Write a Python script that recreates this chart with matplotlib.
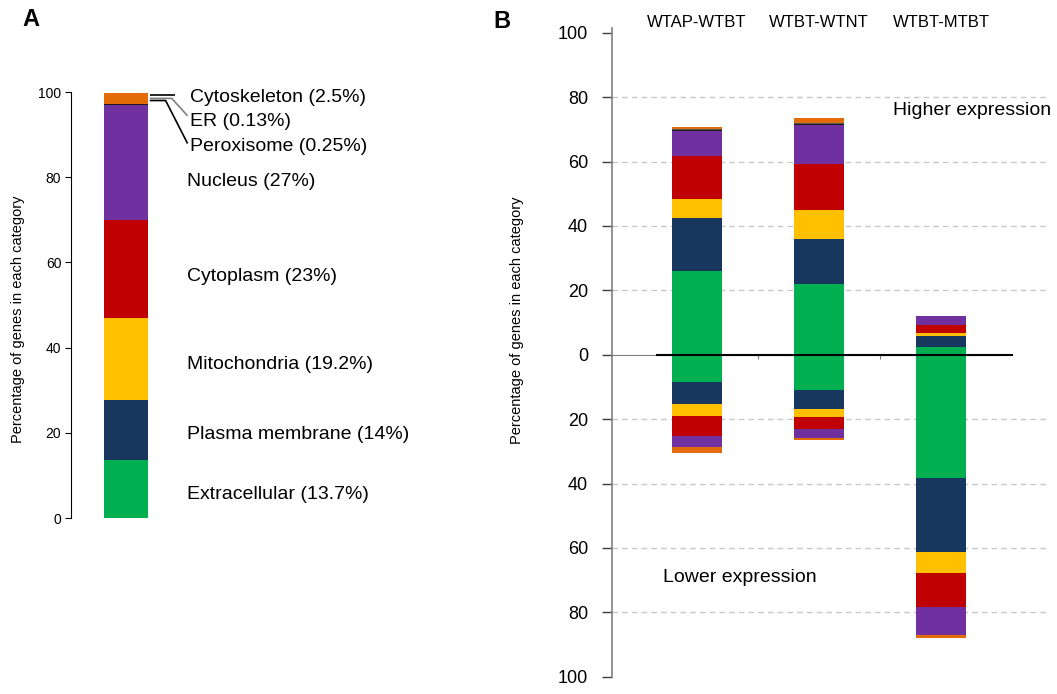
import numpy as np
import matplotlib.pyplot as plt
from matplotlib.ticker import FuncFormatter

plt.rcParams['font.family'] = ['Liberation Sans', 'DejaVu Sans']

# subcellular locations, bottom to top of each stack
locations = ["Extracellular", "Plasma membrane", "Mitochondria", "Cytoplasm",
             "Nucleus", "Peroxisome", "ER", "Cytoskeleton"]
loc_colors = ["#00B050", "#17375E", "#FFC000", "#C00000",
              "#7030A0", "#1A1A1A", "#595959", "#E36C09"]

# panel A: share of all genes (%)
overall = [13.7, 14.0, 19.2, 23.0, 27.0, 0.25, 0.13, 2.5]
overall_labels = ["Extracellular (13.7%)", "Plasma membrane (14%)", "Mitochondria (19.2%)",
                  "Cytoplasm (23%)", "Nucleus (27%)", "Peroxisome (0.25%)",
                  "ER (0.13%)", "Cytoskeleton (2.5%)"]

# panel B: comparisons, rows follow `locations`
comparisons = ["WTAP-WTBT", "WTBT-WTNT", "WTBT-MTBT"]
higher = np.array([
    [26.0, 22.0, 2.3],
    [16.6, 13.9, 3.4],
    [5.9, 9.0, 1.0],
    [13.1, 14.3, 2.6],
    [8.0, 12.2, 2.6],
    [0.2, 0.2, 0.0],
    [0.2, 0.3, 0.0],
    [0.8, 1.6, 0.0],
])
lower = np.array([
    [8.6, 11.1, 38.4],
    [6.6, 5.7, 22.9],
    [3.8, 2.4, 6.5],
    [6.1, 4.0, 10.6],
    [3.4, 2.7, 8.8],
    [0.0, 0.0, 0.0],
    [0.0, 0.0, 0.0],
    [1.9, 0.6, 0.8],
])

W, H = 1057, 694
fig = plt.figure(figsize=(W / 100, H / 100), dpi=100)

# ---------------- panel A ----------------
axA = fig.add_axes([71 / W, (H - 518) / H, 110 / W, 426 / H])
bottom = 0.0
for val, col in zip(overall, loc_colors):
    axA.bar(0, val, 0.5, bottom=bottom, color=col, linewidth=0)
    bottom += val
axA.set_xlim(-0.625, 0.625)
axA.set_ylim(0, 100)
axA.set_yticks(np.arange(0, 101, 20))
axA.set_xticks([])
for s in ["top", "right", "bottom"]:
    axA.spines[s].set_visible(False)
axA.spines["left"].set_linewidth(0.8)
axA.tick_params(axis="y", length=4, width=0.8, pad=3, labelsize=10)

# label positions (x, y in panel A data units)
label_pos = {
    "Extracellular": (0.69, 5.6),
    "Plasma membrane": (0.69, 19.5),
    "Mitochondria": (0.69, 36.0),
    "Cytoplasm": (0.69, 56.8),
    "Nucleus": (0.69, 79.1),
    "Peroxisome": (0.73, 87.1),
    "ER": (0.73, 93.0),
    "Cytoskeleton": (0.73, 98.8),
}
for name, lab in zip(locations, overall_labels):
    lx, ly = label_pos[name]
    axA.text(lx, ly, lab, fontsize=14, va="center", ha="left", clip_on=False)

# leader lines for the thin top segments
leaders = [
    ([0.27, 0.56], [99.3, 99.3], "black"),
    ([0.27, 0.52, 0.70], [98.5, 98.5, 94.4], "#808080"),
    ([0.27, 0.45, 0.70], [98.0, 98.0, 87.9], "black"),
]
for xs, ys, c in leaders:
    axA.plot(xs, ys, color=c, lw=1.2, clip_on=False, solid_capstyle="butt")

fig.text(18 / W, 1 - 319 / H, "Percentage of genes in each category", rotation=90,
         fontsize=10.5, ha="center", va="center")

# ---------------- panel B ----------------
axB = fig.add_axes([611.7 / W, (H - 676.7) / H, (1050 - 611.7) / W, 648.7 / H])
x = np.arange(len(comparisons))
width = 0.41
up = np.zeros(len(comparisons))
dn = np.zeros(len(comparisons))
for i, col in enumerate(loc_colors):
    axB.bar(x, higher[i], width, bottom=up, color=col, linewidth=0, zorder=2)
    up += higher[i]
    axB.bar(x, -lower[i], width, bottom=-dn, color=col, linewidth=0, zorder=2)
    dn += lower[i]

axB.set_xlim(-0.70, 2.89)
axB.set_ylim(-100, 101.5)
axB.set_yticks(np.arange(-100, 101, 20))
axB.yaxis.set_major_formatter(FuncFormatter(lambda v, p: f"{abs(int(round(v)))}"))
axB.tick_params(axis="y", length=7, width=1, color="#404040", pad=10, labelsize=13)

for v in [-80, -60, -40, -20, 20, 40, 60, 80]:
    axB.axhline(v, color="#C8C8C8", ls=(0, (4, 3)), lw=1, zorder=0)

axB.spines["top"].set_visible(False)
axB.spines["right"].set_visible(False)
axB.spines["left"].set_color("#7F7F7F")
axB.spines["left"].set_linewidth(1.2)
axB.spines["bottom"].set_position(("data", 0))
axB.spines["bottom"].set_color("#7F7F7F")
axB.spines["bottom"].set_bounds(-0.70, 2.5)
axB.set_xticks([0.5, 1.5])
axB.set_xticklabels([])
axB.tick_params(axis="x", length=3, color="#7F7F7F", direction="out")
axB.hlines(0, -0.336, 2.588, color="black", lw=1.5, zorder=3)

for xi, name in zip(x, comparisons):
    axB.text(xi, 103.3, name, fontsize=12, ha="center", va="center", clip_on=False)

axB.text(1.607, 76.0, "Higher expression", fontsize=14, ha="left", va="center")
axB.text(-0.279, -69.3, "Lower expression", fontsize=14, ha="left", va="center")

fig.text(517 / W, 1 - 320 / H, "Percentage of genes in each category", rotation=90,
         fontsize=10.5, ha="center", va="center")

fig.text(31 / W, 1 - 20 / H, "A", fontsize=17, fontweight="bold", ha="center", va="center")
fig.text(502 / W, 1 - 22 / H, "B", fontsize=17, fontweight="bold", ha="center", va="center")

fig.savefig("out.png", dpi=100)
